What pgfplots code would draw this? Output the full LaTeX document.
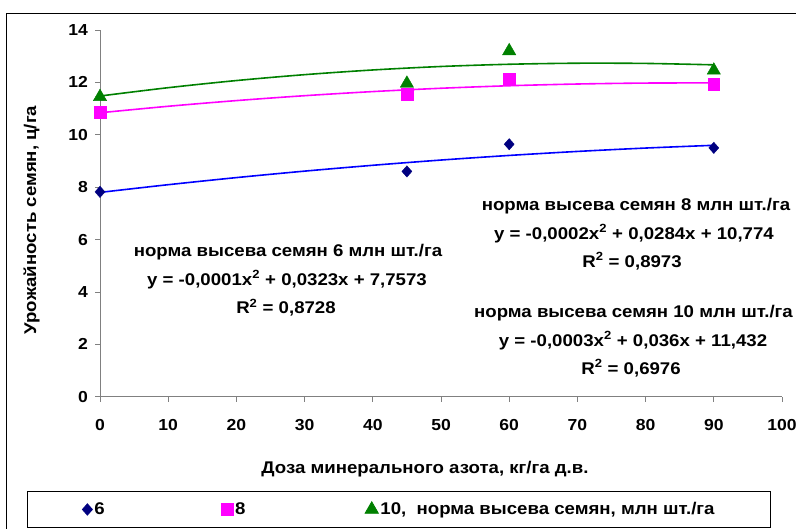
\documentclass[border=0pt]{standalone}
\usepackage{pgfplots}
\pgfplotsset{compat=1.18}
\usepackage{fontspec}
\setmainfont{Liberation Sans}[FakeStretch=1.1]
\definecolor{navyd}{RGB}{0,0,128}
\definecolor{magl}{RGB}{255,0,255}
\definecolor{grn}{RGB}{0,128,0}
\definecolor{bl}{RGB}{0,0,255}
\newcommand{\cf}{\bfseries\fontsize{17}{19}\selectfont}
\newcommand{\tf}{\bfseries\fontsize{16}{18}\selectfont}
\begin{document}
\begin{tikzpicture}
\useasboundingbox (0bp,0bp) rectangle (796bp,-529bp);
\draw[line width=0.8bp] (6.7bp,-529bp) -- (6.7bp,-13.3bp) -- (796bp,-13.3bp);
\begin{axis}[
  at={(100bp,-396.7bp)}, anchor=south west,
  scale only axis, width=682bp, height=366.7bp,
  xmin=0, xmax=100, ymin=0, ymax=14,
  xtick={0,10,...,100}, ytick={0,2,...,14},
  axis x line*=bottom, axis y line*=left,
  axis line style={draw=gray, line width=0.8bp},
  tick style={draw=gray, line width=0.8bp},
  tick align=outside, major tick length=5bp,
  tick label style={font=\tf},
  xticklabel style={anchor=base, yshift=-29bp},
  yticklabel style={xshift=-3.7bp},
  /pgf/number format/assume math mode=true,
  clip=false,
  xlabel={Доза минерального азота, кг/га д.в.},
  ylabel={Урожайность семян, ц/га},
  every axis x label/.style={at={(axis description cs:0.4765,-0.2089)}, anchor=base, font=\cf},
  every axis y label/.style={at={(axis description cs:-0.0938,0.4817)}, rotate=90, anchor=base, font=\cf},
  legend columns=3,
  legend style={at={(axis description cs:-0.10704,-0.25634)}, anchor=north west,
     draw=black, line width=0.8bp, inner xsep=55bp, inner ysep=9.5bp, font=\cf},
  legend image code/.code={\draw[#1] plot coordinates {(0bp,0bp)};},
  legend cell align=left,
]
\addplot[bl, line width=1.6bp, smooth, forget plot] coordinates {
(0,7.80) (10,8.094) (20,8.365) (30,8.612) (40,8.835) (50,9.035) (60,9.211) (70,9.364) (80,9.493) (90,9.598)};
\addplot[magl, line width=1.6bp, smooth, forget plot] coordinates {
(0,10.84) (10,11.088) (20,11.305) (30,11.492) (40,11.649) (50,11.776) (60,11.872) (70,11.938) (80,11.974) (90,11.98)};
\addplot[grn, line width=1.6bp, smooth, forget plot] coordinates {
(0,11.48) (10,11.798) (20,12.07) (30,12.295) (40,12.474) (50,12.607) (60,12.692) (70,12.732) (80,12.724) (90,12.67)};
\addplot[only marks, mark=diamond*, mark size=5.65bp, mark options={draw=navyd, fill=navyd, xscale=1.18}] coordinates {
(0,7.82) (45,8.60) (60,9.64) (90,9.50)};
\addlegendentry{\makebox[125bp][l]{6}}
\addplot[only marks, mark=square*, mark size=5.85bp, mark options={draw=magl, fill=magl}] coordinates {
(0,10.85) (45,11.55) (60,12.12) (90,11.92)};
\addlegendentry{\makebox[128bp][l]{8}}
\addplot[only marks, mark=triangle*, mark size=7.7bp, mark options={draw=grn, fill=grn}] coordinates {
(0,11.45) (45,11.96) (60,13.20) (90,12.46)};
\addlegendentry{\makebox[333bp][l]{10,\ \ норма высева семян, млн шт./га}}
\end{axis}
\begin{scope}[every node/.style={font=\cf, anchor=base, inner sep=0pt}]
\node at (288bp,-256bp) {норма высева семян 6 млн шт./га};
\node at (287bp,-285bp) {y = -0,0001x\textsuperscript{2} + 0,0323x + 7,7573};
\node at (286bp,-313.3bp) {R\textsuperscript{2} = 0,8728};
\node at (636bp,-210bp) {норма высева семян 8 млн шт./га};
\node at (634bp,-239bp) {y = -0,0002x\textsuperscript{2} + 0,0284x + 10,774};
\node at (632bp,-267bp) {R\textsuperscript{2} = 0,8973};
\node at (633.5bp,-317bp) {норма высева семян 10 млн шт./га};
\node at (633bp,-346bp) {y = -0,0003x\textsuperscript{2} + 0,036x + 11,432};
\node at (631bp,-374bp) {R\textsuperscript{2} = 0,6976};
\end{scope}
\end{tikzpicture}
\end{document}
